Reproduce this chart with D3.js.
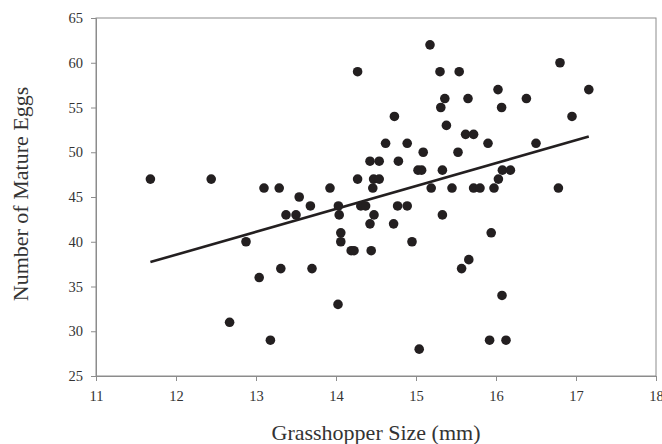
<!DOCTYPE html>
<html>
<head>
<meta charset="utf-8">
<script src="https://cdn.jsdelivr.net/npm/d3@7"></script>
<style>
  body { margin: 0; background: #fff; }
  text { font-family: "Liberation Serif", "Times New Roman", serif; }
</style>
</head>
<body>
<div id="plot"></div>
<script>
// grasshopper size (mm) vs number of mature eggs
let sizes = [
    11.68, 12.44, 13.10, 13.29, 13.375, 12.875, 13.31, 13.04, 12.67, 13.18,
    15.175, 14.27, 15.30, 15.54, 15.36, 15.65, 15.31, 14.73, 15.38, 15.62,
    15.72, 14.62, 14.89, 15.09, 15.525, 14.425, 14.54, 14.78, 15.025, 15.07,
    15.33, 14.27, 14.47, 14.54, 13.54, 13.925, 15.19, 15.45, 15.72, 15.80,
    14.46, 16.80, 17.16, 16.025, 16.38, 16.07, 16.95, 15.90, 16.50, 16.08,
    16.18, 16.03, 15.975, 16.78, 15.94, 15.66, 15.57, 16.075, 15.92, 16.125,
    13.68, 13.50, 14.03, 14.31, 14.37, 14.77, 14.89, 14.04, 14.475, 15.33,
    14.425, 14.72, 14.06, 14.06, 14.95, 14.19, 14.225, 14.44, 13.70, 14.025,
    15.04
];
let eggs = [
    47, 47, 46, 46, 43, 40, 37, 36, 31, 29,
    62, 59, 59, 59, 56, 56, 55, 54, 53, 52,
    52, 51, 51, 50, 50, 49, 49, 49, 48, 48,
    48, 47, 47, 47, 45, 46, 46, 46, 46, 46,
    46, 60, 57, 57, 56, 55, 54, 51, 51, 48,
    48, 47, 46, 46, 41, 38, 37, 34, 29, 29,
    44, 43, 44, 44, 44, 44, 44, 43, 43, 43,
    42, 42, 41, 40, 40, 39, 39, 39, 37, 33,
    28
];
let xTicks = [11, 12, 13, 14, 15, 16, 17, 18];
let yTicks = [25, 30, 35, 40, 45, 50, 55, 60, 65];

let margin = { top: 18, right: 6, bottom: 68, left: 96 },
    width = 662 - margin.left - margin.right,
    height = 444 - margin.top - margin.bottom;

let svg = d3.select('#plot')
    .append('svg')
        .attr('width', 662)
        .attr('height', 444)
    .append('g')
        .attr('transform', 'translate(' + margin.left + ',' + margin.top + ')');

let x = d3.scaleLinear().domain([11, 18]).range([0, width]);
let y = d3.scaleLinear().domain([25, 65]).range([height, 0]);

let data = sizes.map(function(s, i) { return { size: s, eggs: eggs[i] }; });

// frame
svg.append('rect')
    .attr('width', width)
    .attr('height', height)
    .attr('fill', 'none')
    .attr('stroke', '#8c8c8c')
    .attr('stroke-width', 1);

let xAxis = svg.append('g')
    .attr('transform', 'translate(0,' + height + ')')
    .call(d3.axisBottom(x).tickValues(xTicks).tickSize(5).tickPadding(10).tickFormat(d3.format('d')));

let yAxis = svg.append('g')
    .call(d3.axisLeft(y).tickValues(yTicks).tickSize(5).tickPadding(8).tickFormat(d3.format('d')));

[xAxis, yAxis].forEach(function(a) {
    a.select('.domain').attr('stroke', '#8c8c8c');
    a.selectAll('.tick line').attr('stroke', '#8c8c8c');
    a.selectAll('.tick text')
        .attr('fill', '#333')
        .style('font-size', '14.5px')
        .style('font-family', '"Liberation Serif", serif');
});

// least squares fit
let mx = d3.mean(sizes), my = d3.mean(eggs);
let sxy = d3.sum(data, d => (d.size - mx) * (d.eggs - my));
let sxx = d3.sum(data, d => (d.size - mx) * (d.size - mx));
let slope = sxy / sxx, icpt = my - slope * mx;
let ext = d3.extent(sizes);

svg.append('path')
    .datum(ext)
    .attr('d', d3.line().x(d => x(d)).y(d => y(icpt + slope * d)))
    .attr('stroke', '#231f20')
    .attr('stroke-width', 2.6)
    .attr('fill', 'none');

svg.selectAll('circle')
    .data(data)
    .enter()
    .append('circle')
        .attr('cx', d => x(d.size))
        .attr('cy', d => y(d.eggs))
        .attr('r', 4.8)
        .attr('fill', '#231f20');

svg.append('text')
    .attr('x', width / 2)
    .attr('y', height + 64)
    .attr('text-anchor', 'middle')
    .attr('fill', '#333')
    .style('font-size', '22px')
    .text('Grasshopper Size (mm)');

svg.append('text')
    .attr('transform', 'rotate(-90)')
    .attr('x', -height / 2 + 3)
    .attr('y', -68)
    .attr('text-anchor', 'middle')
    .attr('fill', '#333')
    .style('font-size', '22px')
    .text('Number of Mature Eggs');
</script>
</body>
</html>
